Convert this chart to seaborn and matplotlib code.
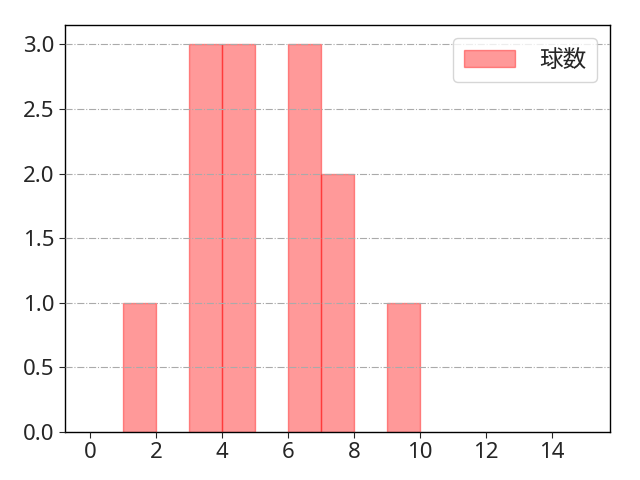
import matplotlib
matplotlib.use("Agg")
import matplotlib.pyplot as plt
import seaborn as sns
import numpy as np

bin_edges = list(range(0, 16))
bin_centers = [1.5, 3.5, 4.5, 6.5, 7.5, 9.5]
counts = [1, 3, 3, 3, 2, 1]

sns.set_style("white")
plt.rcParams['font.family'] = ['Noto Sans', 'Noto Sans CJK JP', 'DejaVu Sans']

fig, ax = plt.subplots(figsize=(6.4, 4.8), dpi=100)
sns.histplot(x=bin_centers, weights=counts, bins=bin_edges,
             facecolor=(1, 0, 0, 0.4), edgecolor=(1, 0, 0, 0.4), linewidth=1,
             label='球数', ax=ax)
for p in list(ax.patches):
    if p.get_height() == 0:
        p.remove()
ax.set_xlim(-0.75, 15.75)
ax.set_ylim(0, 3.15)
ax.set_xticks(range(0, 16, 2))
ax.set_yticks(np.arange(0, 3.01, 0.5))
ax.yaxis.grid(True, linestyle='-.', color='#aaaaaa', linewidth=0.8)
ax.set_axisbelow(False)
ax.set_xlabel('')
ax.set_ylabel('')
ax.tick_params(labelsize=16, left=True, bottom=True, length=4)
for s in ax.spines.values():
    s.set_color('black')
    s.set_linewidth(1)
ax.legend(loc='upper right', handlelength=2.2, handletextpad=1.0,
          borderpad=0.45, borderaxespad=0.55,
          prop={'family': ['Noto Sans CJK JP'], 'size': 17})
fig.subplots_adjust(left=0.1016, right=0.953, top=0.948, bottom=0.1)
fig.savefig('out.png', dpi=100)
